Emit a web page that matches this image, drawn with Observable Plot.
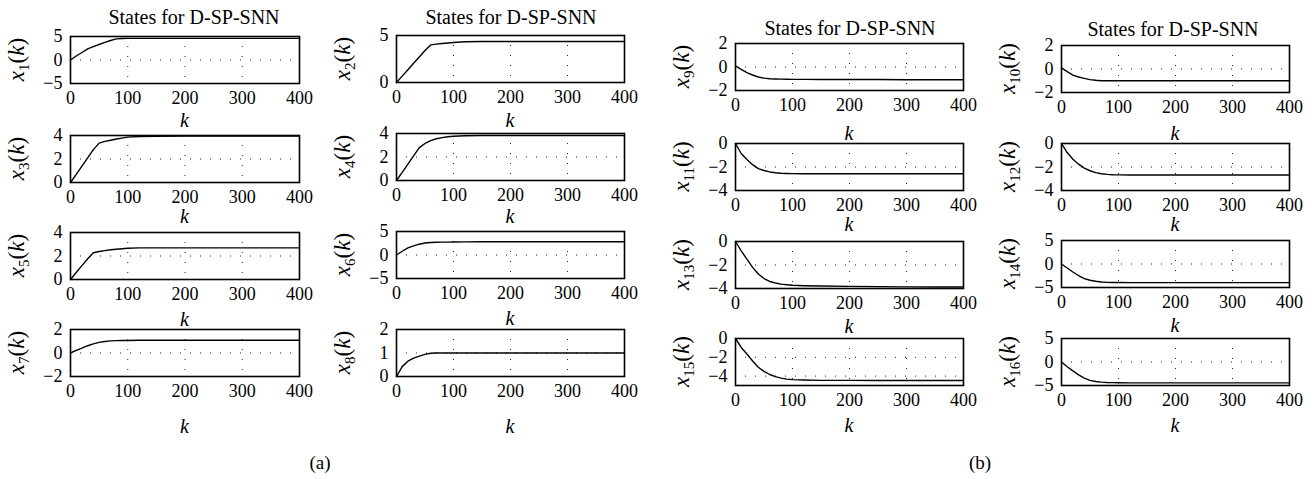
<!DOCTYPE html>
<html>
<head>
<meta charset="utf-8">
<script src="https://cdn.jsdelivr.net/npm/d3@7"></script>
<script src="https://cdn.jsdelivr.net/npm/@observablehq/plot@0.6"></script>
<style>
  body { margin: 0; background: #fff; }
  #fig { position: relative; width: 1315px; height: 479px; overflow: hidden; background: #fff; }
  #fig svg { position: absolute; }
  #fig svg, #fig svg text { font-family: "Liberation Serif", "DejaVu Serif", serif !important; }
</style>
</head>
<body>
<div id="fig"></div>
<script>
// Sample instants k and the sixteen state trajectories x1(k) … x16(k)
const k = [0, 10, 20, 30, 40, 50, 60, 70, 80, 90, 100, 120, 150, 200, 250, 300, 350, 400];

const x1  = [0, 0.85, 1.6, 2.35, 2.85, 3.3, 3.75, 4.15, 4.5, 4.57, 4.6, 4.6, 4.6, 4.6, 4.6, 4.6, 4.6, 4.6];
const x2  = [0, 0.68, 1.36, 2.04, 2.72, 3.4, 4.0, 4.08, 4.15, 4.2, 4.25, 4.33, 4.36, 4.36, 4.36, 4.36, 4.36, 4.36];
const x3  = [0, 0.7, 1.4, 2.1, 2.8, 3.35, 3.5, 3.6, 3.7, 3.78, 3.86, 3.92, 3.94, 3.95, 3.95, 3.95, 3.95, 3.95];
const x4  = [0, 0.7, 1.4, 2.1, 2.8, 3.15, 3.4, 3.55, 3.65, 3.72, 3.77, 3.81, 3.83, 3.83, 3.83, 3.83, 3.83, 3.83];
const x5  = [0, 0.59, 1.18, 1.77, 2.28, 2.38, 2.46, 2.53, 2.58, 2.62, 2.66, 2.69, 2.69, 2.69, 2.69, 2.69, 2.69, 2.69];
const x6  = [0, 0.8, 1.5, 1.95, 2.3, 2.55, 2.65, 2.7, 2.73, 2.75, 2.77, 2.8, 2.82, 2.83, 2.83, 2.83, 2.83, 2.83];
const x7  = [0, 0.22, 0.42, 0.62, 0.78, 0.9, 0.98, 1.03, 1.05, 1.06, 1.07, 1.08, 1.08, 1.08, 1.08, 1.08, 1.08, 1.08];
const x8  = [0, 0.42, 0.65, 0.78, 0.87, 0.94, 0.99, 1.0, 1.0, 1.0, 1.0, 1.0, 1.0, 1.0, 1.0, 1.0, 1.0, 1.0];
const x9  = [0.1, -0.2, -0.48, -0.68, -0.85, -0.95, -1.0, -1.02, -1.03, -1.04, -1.05, -1.05, -1.06, -1.07, -1.07, -1.08, -1.08, -1.08];
const x10 = [0.1, -0.22, -0.52, -0.68, -0.8, -0.9, -0.96, -1.0, -1.0, -1.0, -1.0, -1.0, -1.0, -1.0, -1.0, -1.0, -1.0, -1.0];
const x11 = [0, -0.85, -1.37, -1.8, -2.14, -2.3, -2.42, -2.49, -2.53, -2.55, -2.56, -2.57, -2.57, -2.57, -2.57, -2.57, -2.57, -2.57];
const x12 = [0, -0.77, -1.34, -1.76, -2.1, -2.32, -2.48, -2.57, -2.63, -2.66, -2.67, -2.68, -2.68, -2.68, -2.68, -2.68, -2.68, -2.68];
const x13 = [0, -0.8, -1.5, -2.2, -2.77, -3.15, -3.4, -3.53, -3.63, -3.68, -3.72, -3.76, -3.79, -3.82, -3.84, -3.86, -3.87, -3.87];
const x14 = [0, -0.85, -1.7, -2.45, -3.1, -3.45, -3.68, -3.82, -3.9, -3.93, -3.95, -3.96, -3.96, -3.96, -3.96, -3.96, -3.96, -3.96];
const x15 = [0, -0.95, -1.65, -2.4, -3.06, -3.5, -3.83, -4.05, -4.22, -4.32, -4.38, -4.42, -4.45, -4.46, -4.47, -4.47, -4.47, -4.47];
const x16 = [0, -1.0, -1.9, -2.75, -3.45, -3.9, -4.16, -4.28, -4.35, -4.39, -4.42, -4.44, -4.45, -4.45, -4.45, -4.45, -4.45, -4.45];

const states = [x1, x2, x3, x4, x5, x6, x7, x8, x9, x10, x11, x12, x13, x14, x15, x16];

// Vertical axis range and tick values of each state plot
const yDomains = [
  [-5, 5], [0, 5], [0, 4], [0, 4], [0, 4], [-5, 5], [-2, 2], [0, 2],
  [-2, 2], [-2, 2], [-4, 0], [-4, 0], [-4, 0], [-5, 5], [-5, 0], [-5, 5]
];
const yTicks = [
  [-5, 0, 5], [0, 5], [0, 2, 4], [0, 2, 4], [0, 2, 4], [-5, 0, 5], [-2, 0, 2], [0, 1, 2],
  [-2, 0, 2], [-2, 0, 2], [-4, -2, 0], [-4, -2, 0], [-4, -2, 0], [-5, 0, 5], [-4, -2, 0], [-5, 0, 5]
];
const xTicks = [0, 100, 200, 300, 400];
const xName = "k";
const titleText = "States for D-SP-SNN";
const captions = ["(a)", "(b)"];

// ---- figure geometry (page pixels) ----
const FONT = '"Liberation Serif", "DejaVu Serif", serif';
const colLeft  = [70, 396, 735, 1061];
const colWidth = [229, 228, 228, 228];
const rowTop = [
  [36, 135, 232, 329],
  [35, 133, 231, 329],
  [43, 143, 241, 338],
  [45, 143, 240, 338]
];
const boxH = 47;
const kBaseline = [
  [127, 223, 326, 433],
  [127, 223, 325, 433],
  [140, 231, 333, 432],
  [140, 231, 332, 432]
];
const titlePos = [[194, 24], [511, 24], [850, 35], [1173, 36]];
const captionPos = [[320, 469], [980, 469]];

const intFmt = d3.format("d");
const M = {l: 80, r: 30, t: 10, b: 30};
const fig = document.getElementById("fig");

function cell(i) {
  const panel = i < 8 ? 0 : 1;
  const m = i % 8;
  return {col: panel * 2 + (m % 2), row: Math.floor(m / 2)};
}

states.forEach((vals, i) => {
  const {col, row} = cell(i);
  const w = colWidth[col];
  const dom = yDomains[i];
  const data = k.map((kk, j) => ({k: kk, v: vals[j]}));
  const innerY = yTicks[i].filter(t => t > dom[0] && t < dom[1]);

  const svg = Plot.plot({
    width: w + M.l + M.r,
    height: boxH + M.t + M.b,
    marginLeft: M.l, marginRight: M.r, marginTop: M.t, marginBottom: M.b,
    style: {background: "transparent", overflow: "visible", fontFamily: FONT, color: "black"},
    x: {domain: [0, 400]},
    y: {domain: dom},
    marks: [
      Plot.ruleX(xTicks.slice(1, -1), {stroke: "#222", strokeWidth: 1, strokeDasharray: "1,9"}),
      Plot.ruleY(innerY, {stroke: "#222", strokeWidth: 1, strokeDasharray: "1,9"}),
      Plot.line(data, {x: "k", y: "v", stroke: "black", strokeWidth: 1.4}),
      Plot.frame({stroke: "black", strokeWidth: 1.6}),
      Plot.axisX({ticks: xTicks, tickFormat: intFmt, tickSize: 0, tickPadding: 8, label: null, fontSize: 18}),
      Plot.axisY({ticks: yTicks[i], tickFormat: intFmt, tickSize: 0, tickPadding: 8, label: null, fontSize: 18})
    ]
  });
  svg.style.left = (colLeft[col] - M.l) + "px";
  svg.style.top = (rowTop[col][row] - M.t) + "px";
  fig.appendChild(svg);
});

// ---- annotation layer: titles, axis names, panel captions ----
const ann = d3.select(fig).append("svg")
  .attr("width", 1315).attr("height", 479)
  .style("left", "0px").style("top", "0px")
  .attr("fill", "black");

titlePos.forEach(([x, y]) => {
  ann.append("text").attr("x", x).attr("y", y).attr("text-anchor", "middle")
    .attr("font-size", 20).text(titleText);
});

states.forEach((vals, i) => {
  const {col, row} = cell(i);
  const cx = colLeft[col] - 46;
  const cy = rowTop[col][row] + boxH / 2;
  const t = ann.append("text")
    .attr("transform", `translate(${cx},${cy}) rotate(-90)`)
    .attr("text-anchor", "middle").attr("font-size", 23);
  t.append("tspan").attr("font-style", "italic").text("x");
  t.append("tspan").attr("font-size", 15).attr("dy", 5).text(String(i + 1));
  t.append("tspan").attr("dy", -5).text("(");
  t.append("tspan").attr("font-style", "italic").text(xName);
  t.append("tspan").text(")");

  ann.append("text")
    .attr("x", colLeft[col] + colWidth[col] / 2).attr("y", kBaseline[col][row])
    .attr("text-anchor", "middle").attr("font-size", 20).attr("font-style", "italic")
    .text(xName);
});

captions.forEach((c, p) => {
  ann.append("text").attr("x", captionPos[p][0]).attr("y", captionPos[p][1])
    .attr("text-anchor", "middle").attr("font-size", 19).text(c);
});
</script>
</body>
</html>
